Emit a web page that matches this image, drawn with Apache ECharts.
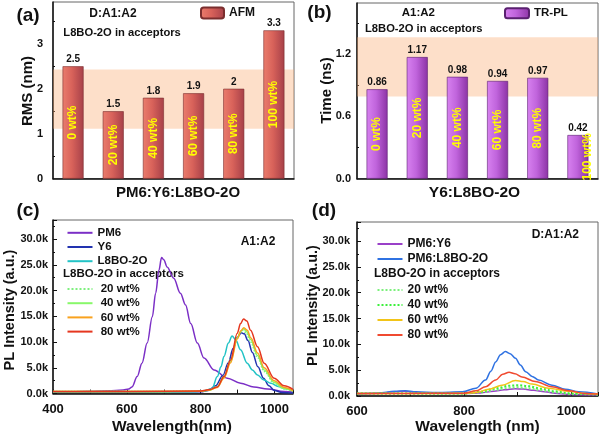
<!DOCTYPE html>
<html><head><meta charset="utf-8">
<script src="https://cdn.jsdelivr.net/npm/echarts@6/dist/echarts.min.js"></script>
<style>html,body{margin:0;padding:0;background:#fff}#c{width:600px;height:436px}</style>
</head><body><div id="c"></div>
<script>
const FONT = '"Liberation Sans", Arial, sans-serif';
// ---- panel (a) ----
const catsA = ['0 wt%', '20 wt%', '40 wt%', '60 wt%', '80 wt%', '100 wt%'];
const rmsA = [2.5, 1.5, 1.8, 1.9, 2.0, 3.3];
const bandA = [1.11, 2.43];
// ---- panel (b) ----
const catsB = ['0 wt%', '20 wt%', '40 wt%', '60 wt%', '80 wt%', '100 wt%'];
const timeB = [0.86, 1.17, 0.98, 0.94, 0.97, 0.42];
const bandB = [0.79, 1.36];
// ---- panel (c) PL (k counts) ----
const pm6C = [[400,0.35],[450,0.35],[500,0.45],[550,0.55],[590,0.7],[605,0.9],[614,1.3],[628,3.3],[641,5.9],[655,9.8],[669,14.9],[678,19.5],[687,24.0],[694,26.4],[700,26.0],[709,24.6],[727,22.4],[745,19.5],[759,17.2],[773,13.6],[791,9.8],[809,6.9],[836,4.6],[872,3.0],[908,2.0],[944,1.3],[981,0.9],[1026,0.4],[1050,0.3]];
const y6C = [[400,0.3],[600,0.3],[800,0.35],[820,0.6],[840,1.5],[860,3.5],[875,6.0],[888,8.8],[900,11.0],[910,11.8],[918,11.6],[928,10.3],[940,8.0],[955,5.2],[970,3.0],[985,1.5],[1000,0.6],[1020,0.2],[1050,0.1]];
const l8C = [[400,0.3],[600,0.3],[780,0.35],[810,0.55],[831,1.0],[845,3.3],[855,5.2],[863,7.2],[875,9.8],[885,11.2],[895,10.4],[908,8.5],[926,5.9],[940,4.6],[954,3.6],[970,2.7],[990,2.0],[1010,1.4],[1026,1.0],[1050,0.6]];
const w20C = [[400,0.4],[600,0.4],[800,0.45],[825,0.7],[845,1.4],[863,3.4],[881,6.6],[899,10.8],[908,11.9],[914,12.3],[923,11.8],[935,10.0],[954,7.0],[972,4.3],[999,2.0],[1026,0.9],[1050,0.5]];
const w40C = [[400,0.4],[600,0.4],[800,0.45],[825,0.7],[845,1.3],[863,3.2],[881,6.3],[899,10.8],[909,12.1],[916,12.6],[925,12.0],[935,10.5],[954,7.4],[972,4.6],[999,2.2],[1026,1.0],[1050,0.5]];
const w60C = [[400,0.4],[600,0.4],[800,0.45],[825,0.7],[845,1.2],[863,3.0],[881,6.0],[899,10.6],[909,12.2],[917,12.8],[926,12.3],[936,10.8],[954,7.9],[972,5.0],[999,2.5],[1026,1.2],[1050,0.6]];
const w80C = [[400,0.4],[600,0.4],[800,0.5],[825,0.8],[845,1.3],[863,3.3],[881,6.5],[899,11.7],[908,13.6],[916,14.5],[925,14.1],[935,12.3],[954,9.1],[972,5.9],[999,3.0],[1026,1.5],[1050,0.8]];
// ---- panel (d) PL (k counts) ----
const pm6y6D = [[600,0.4],[640,0.5],[670,0.8],[690,0.9],[710,0.7],[750,0.5],[800,0.5],[830,0.6],[855,0.9],[875,1.2],[895,1.4],[910,1.35],[930,1.1],[950,0.8],[975,0.5],[1000,0.3],[1050,0.2]];
const pm6l8D = [[600,0.5],[640,0.6],[670,0.9],[690,1.0],[710,0.8],[750,0.7],[797,0.8],[822,1.5],[840,3.1],[850,4.8],[859,6.6],[868,8.0],[877,8.6],[886,8.2],[896,7.3],[905,6.0],[915,4.7],[927,3.8],[939,3.1],[964,2.1],[989,1.3],[1014,0.8],[1050,0.4]];
const w20D = [[600,0.5],[700,0.5],[800,0.5],[830,0.7],[860,1.2],[885,1.6],[900,1.7],[920,1.5],[945,1.1],[970,0.7],[1000,0.4],[1050,0.3]];
const w40D = [[600,0.5],[700,0.5],[800,0.5],[830,0.8],[860,1.5],[885,2.0],[900,2.1],[920,1.9],[945,1.4],[970,0.9],[1000,0.5],[1050,0.3]];
const w60D = [[600,0.5],[700,0.5],[800,0.5],[822,0.7],[846,1.3],[871,2.1],[896,3.0],[910,2.8],[927,2.3],[958,1.5],[995,0.9],[1025,0.5],[1050,0.4]];
const w80D = [[600,0.5],[700,0.5],[800,0.55],[822,1.0],[840,1.8],[859,3.1],[872,4.2],[884,4.6],[895,4.3],[908,3.7],[933,2.8],[964,1.8],[995,1.0],[1026,0.5],[1050,0.4]];

const chart = echarts.init(document.getElementById('c'), null, {renderer: 'canvas'});

const axisLineS = {show: true, lineStyle: {color: '#111', width: 1.5}};
function yAx(gi, max, interval, margin, fmt) {
  return {type: 'value', gridIndex: gi, min: 0, max: max, interval: interval,
    axisLine: axisLineS, splitLine: {show: false},
    axisTick: {inside: true, length: 4, lineStyle: {color: '#111'}},
    minorTick: {show: true, splitNumber: 2, length: 2, lineStyle: {color: '#111'}},
    axisLabel: {showMaxLabel: false, margin: margin, color: '#111', fontFamily: FONT, fontWeight: 'bold', fontSize: 11, formatter: fmt}};
}
function xVal(gi, min, max) {
  return {type: 'value', gridIndex: gi, min: min, max: max, interval: 200,
    axisLine: axisLineS, splitLine: {show: false},
    axisTick: {inside: true, length: 4, lineStyle: {color: '#111'}},
    minorTick: {show: true, splitNumber: 2, length: 4, lineStyle: {color: '#111'}},
    axisLabel: {showMaxLabel: false, margin: 9, color: '#111', fontFamily: FONT, fontWeight: 'bold', fontSize: 13,
      formatter: v => (v % 200 === 0 ? String(v) : '')}};
}
function xCat(gi, cats) {
  return {type: 'category', gridIndex: gi, data: cats, axisLine: axisLineS,
    axisTick: {show: false}, axisLabel: {show: false}, splitLine: {show: false}};
}
const kFmt = v => v.toFixed(1) + 'k';

const gradA = new echarts.graphic.LinearGradient(0, 0, 1, 0, [
  {offset: 0, color: '#ea7d6d'}, {offset: 0.45, color: '#d8625a'}, {offset: 1, color: '#a64049'}]);
const gradB = new echarts.graphic.LinearGradient(0, 0, 1, 0, [
  {offset: 0, color: '#d882f0'}, {offset: 0.45, color: '#c064dc'}, {offset: 1, color: '#8c33a5'}]);
const bandColor = 'rgba(250,172,112,0.38)';

function valLabel() {
  return {show: true, position: 'top', distance: 2, color: '#111', fontFamily: FONT, fontWeight: 'bold', fontSize: 10};
}
function inLabel() {
  return {show: true, position: 'inside', rotate: 90, color: '#ffff00', fontFamily: FONT, fontWeight: 'bold', fontSize: 12,
    formatter: p => p.name};
}
function line(name, gi, data, color, dotted, width) {
  return {name: name, type: 'line', xAxisIndex: gi, yAxisIndex: gi, data: data, smooth: 0.35, smoothMonotone: 'x',
    symbol: 'none', showSymbol: false, lineStyle: {color: color, width: width || 1.5, type: dotted ? 'dotted' : 'solid'},
    itemStyle: {color: color}, z: 3};
}
const txt = (x, y, s, size, align, extra) => Object.assign({type: 'text', x: x, y: y,
  style: {text: s, fill: '#111', font: 'bold ' + size + 'px ' + FONT, textAlign: align || 'left', textVerticalAlign: 'middle'}}, extra || {});

const legText = {fontFamily: FONT, fontWeight: 'bold', color: '#111'};
const fmtName = n => n.slice(2);
const noSym = {color: 'rgba(0,0,0,0)', borderColor: 'rgba(0,0,0,0)', borderWidth: 0};

const option = {
  animation: false,
  backgroundColor: '#fff',
  grid: [
    {left: 53, top: 2, width: 241, height: 176.7, show: true, borderColor: '#666', borderWidth: 1},
    {left: 357, top: 3, width: 241, height: 175.7, show: true, borderColor: '#666', borderWidth: 1},
    {left: 53, top: 220, width: 240, height: 173.6, show: true, borderColor: '#666', borderWidth: 1},
    {left: 357, top: 222, width: 241, height: 174, show: true, borderColor: '#666', borderWidth: 1}
  ],
  xAxis: [xCat(0, catsA), xCat(1, catsB), xVal(2, 400, 1050), xVal(3, 600, 1050)],
  yAxis: [
    yAx(0, 3.93, 1, 10, v => String(v)),
    yAx(1, 1.69, 0.6, 6, v => v.toFixed(1)),
    yAx(2, 33.7, 5, 5, kFmt),
    yAx(3, 33.7, 5, 7, kFmt)
  ],
  legend: [
    {data: ['a:AFM'], formatter: fmtName, left: 200, top: 6.5, padding: 0, itemWidth: 23, itemHeight: 11, itemGap: 0,
      textStyle: Object.assign({fontSize: 12}, legText), selectedMode: false},
    {data: ['b:TR-PL'], formatter: fmtName, left: 504, top: 7.3, padding: 0, itemWidth: 24, itemHeight: 10, itemGap: 0,
      textStyle: Object.assign({fontSize: 11.5}, legText), selectedMode: false},
    {data: ['c:PM6', 'c:Y6', 'c:L8BO-2O'], formatter: fmtName, orient: 'vertical', left: 66.5, top: 225.8, padding: 0, itemWidth: 25, itemHeight: 14, itemGap: 0.2,
      itemStyle: noSym, textStyle: Object.assign({fontSize: 11.5, lineHeight: 14}, legText), selectedMode: false},
    {data: ['c:20 wt%', 'c:40 wt%', 'c:60 wt%', 'c:80 wt%'], formatter: n => ' ' + n.slice(2), orient: 'vertical', left: 66.5, top: 282, padding: 0, itemWidth: 25, itemHeight: 14, itemGap: 0.2,
      itemStyle: noSym, textStyle: Object.assign({fontSize: 11.5, lineHeight: 14}, legText), selectedMode: false},
    {data: ['d:PM6:Y6', 'd:PM6:L8BO-2O'], formatter: fmtName, orient: 'vertical', left: 376.5, top: 236.5, padding: 0, itemWidth: 25, itemHeight: 15, itemGap: 0,
      itemStyle: noSym, textStyle: Object.assign({fontSize: 12, lineHeight: 15}, legText), selectedMode: false},
    {data: ['d:20 wt%', 'd:40 wt%', 'd:60 wt%', 'd:80 wt%'], formatter: fmtName, orient: 'vertical', left: 376.5, top: 282.5, padding: 0, itemWidth: 25, itemHeight: 15, itemGap: 0,
      itemStyle: noSym, textStyle: Object.assign({fontSize: 12, lineHeight: 15}, legText), selectedMode: false}
  ],
  series: [
    {name: 'a:AFM', type: 'bar', xAxisIndex: 0, yAxisIndex: 0, data: rmsA, barWidth: 21,
      itemStyle: {color: gradA, borderColor: '#7a2e2e', borderWidth: 0.6}, label: valLabel(), z: 2},
    {name: 'a:lab', type: 'bar', xAxisIndex: 0, yAxisIndex: 0, data: rmsA, barWidth: 21, barGap: '-100%',
      itemStyle: {color: 'rgba(0,0,0,0)'}, label: inLabel(), z: 4,
      markArea: {silent: true, itemStyle: {color: bandColor}, data: [[{yAxis: bandA[0]}, {yAxis: bandA[1]}]]}},
    {name: 'b:TR-PL', type: 'bar', xAxisIndex: 1, yAxisIndex: 1, data: timeB, barWidth: 21,
      itemStyle: {color: gradB, borderColor: '#5a2070', borderWidth: 0.6}, label: valLabel(), z: 2},
    {name: 'b:lab', type: 'bar', xAxisIndex: 1, yAxisIndex: 1, barWidth: 21, barGap: '-100%',
      data: timeB.map((v, i) => i === 5 ? {value: v, label: {offset: [0, 10]}} : v),
      itemStyle: {color: 'rgba(0,0,0,0)'}, label: inLabel(), z: 4,
      markArea: {silent: true, itemStyle: {color: bandColor}, data: [[{yAxis: bandB[0]}, {yAxis: bandB[1]}]]}},
    line('c:PM6', 2, pm6C, '#7b2fc6'),
    line('c:Y6', 2, y6C, '#2233b0'),
    line('c:L8BO-2O', 2, l8C, '#22c3c6'),
    line('c:20 wt%', 2, w20C, '#7ef07e', true),
    line('c:40 wt%', 2, w40C, '#88f86a'),
    line('c:60 wt%', 2, w60C, '#f9a21e'),
    line('c:80 wt%', 2, w80C, '#e5361f'),
    line('d:PM6:Y6', 3, pm6y6D, '#9a40c8'),
    line('d:PM6:L8BO-2O', 3, pm6l8D, '#2f72e2'),
    line('d:20 wt%', 3, w20D, '#7cf07c', true, 2),
    line('d:40 wt%', 3, w40D, '#3cf03c', true, 2),
    line('d:60 wt%', 3, w60D, '#f2c418'),
    line('d:80 wt%', 3, w80D, '#f04a30')
  ],
  graphic: [
    txt(28, 16, '(a)', 19, 'center'),
    txt(319.5, 13, '(b)', 19, 'center'),
    txt(28, 211, '(c)', 19, 'center'),
    txt(324, 211, '(d)', 19, 'center'),
    txt(89.3, 13.5, 'D:A1:A2', 12),
    txt(63.3, 33.3, 'L8BO-2O in acceptors', 11.2),
    txt(401.7, 12.7, 'A1:A2', 11.5),
    txt(365, 29.3, 'L8BO-2O in acceptors', 11.2),
    txt(240.7, 241.7, 'A1:A2', 12),
    txt(63, 274.3, 'L8BO-2O in acceptors', 11.5),
    txt(531.7, 235, 'D:A1:A2', 12),
    txt(374, 274, 'L8BO-2O in acceptors', 12),
    txt(178, 193, 'PM6:Y6:L8BO-2O', 15, 'center'),
    txt(474.5, 192.7, 'Y6:L8BO-2O', 15.5, 'center'),
    txt(172, 426.7, 'Wavelength(nm)', 15.5, 'center'),
    txt(477.5, 426.7, 'Wavelength (nm)', 15.5, 'center'),
    txt(28, 91, 'RMS (nm)', 15, 'center', {rotation: Math.PI / 2}),
    txt(326.7, 90.5, 'Time (ns)', 15, 'center', {rotation: Math.PI / 2}),
    txt(10, 310, 'PL Intensity (a.u.)', 14.5, 'center', {rotation: Math.PI / 2}),
    txt(313, 305.5, 'PL Intensity (a.u.)', 14.5, 'center', {rotation: Math.PI / 2})
  ]
};
chart.setOption(option);
</script></body></html>
